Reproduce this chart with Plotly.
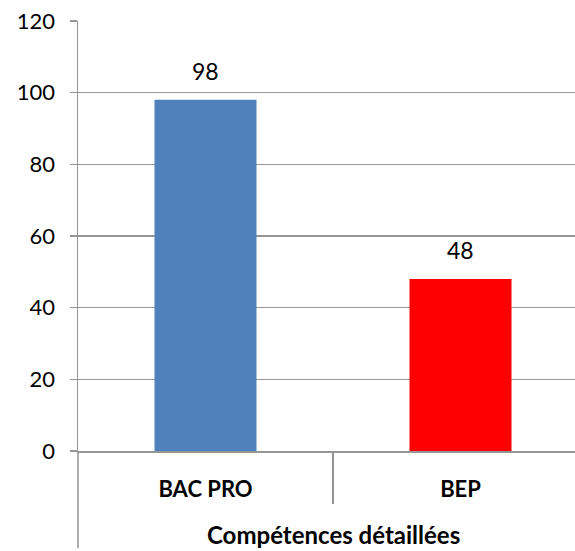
import plotly.graph_objects as go

categories = ["BAC PRO", "BEP"]
values = [98, 48]
colors = ["#4F81BD", "#FF0000"]
y_ticks = [0, 20, 40, 60, 80, 100, 120]
axis_title = "Compétences détaillées"

FONT = "Lato"
GRID = "#959595"
xs = list(range(len(categories)))

fig = go.Figure()
fig.add_trace(go.Bar(
    x=xs, y=values, width=0.4, marker=dict(color=colors, line=dict(width=0)),
    hoverinfo="skip",
))

for x, v in zip(xs, values):
    fig.add_annotation(x=x, y=v, text=str(v), showarrow=False, yanchor="bottom",
                       yshift=13, font=dict(family=FONT, size=23, color="#000"))

fig.add_annotation(x=0.5, xref="x", y=-0.195, yref="paper", text="<b>%s</b>" % axis_title,
                   showarrow=False, yanchor="middle",
                   font=dict(family=FONT, size=24, color="#000"))

fig.add_shape(type="line", xref="paper", yref="paper", x0=0, x1=0, y0=0, y1=-0.226,
              line=dict(color=GRID, width=1.5))

fig.update_layout(
    width=575, height=551,
    margin=dict(l=78, r=0, t=21, b=100),
    paper_bgcolor="white", plot_bgcolor="white",
    showlegend=False,
    font=dict(family=FONT, size=22, color="#000"),
    xaxis=dict(
        range=[-0.5, 1.449], tickvals=xs, ticktext=["<b>%s</b>" % c for c in categories],
        ticks="", ticklabelstandoff=18, showgrid=False, zeroline=False,
        showline=True, linecolor=GRID, linewidth=1.5,
        minor=dict(tickvals=[0.5], ticks="outside", ticklen=51, tickcolor=GRID, tickwidth=1.5),
        tickfont=dict(family=FONT, size=22, color="#000"), fixedrange=True,
    ),
    yaxis=dict(
        range=[0, 120], tickvals=y_ticks, showgrid=True, gridcolor=GRID, gridwidth=1.5,
        zeroline=False, showline=True, linecolor=GRID, linewidth=1.5,
        ticks="outside", ticklen=7, tickcolor=GRID, tickwidth=1.5,
        tickfont=dict(family=FONT, size=22, color="#000"), ticklabelstandoff=10,
        fixedrange=True,
    ),
)

fig.write_html("out.html", config={"displayModeBar": False, "staticPlot": True},
               post_script="document.body.style.margin='0';")
